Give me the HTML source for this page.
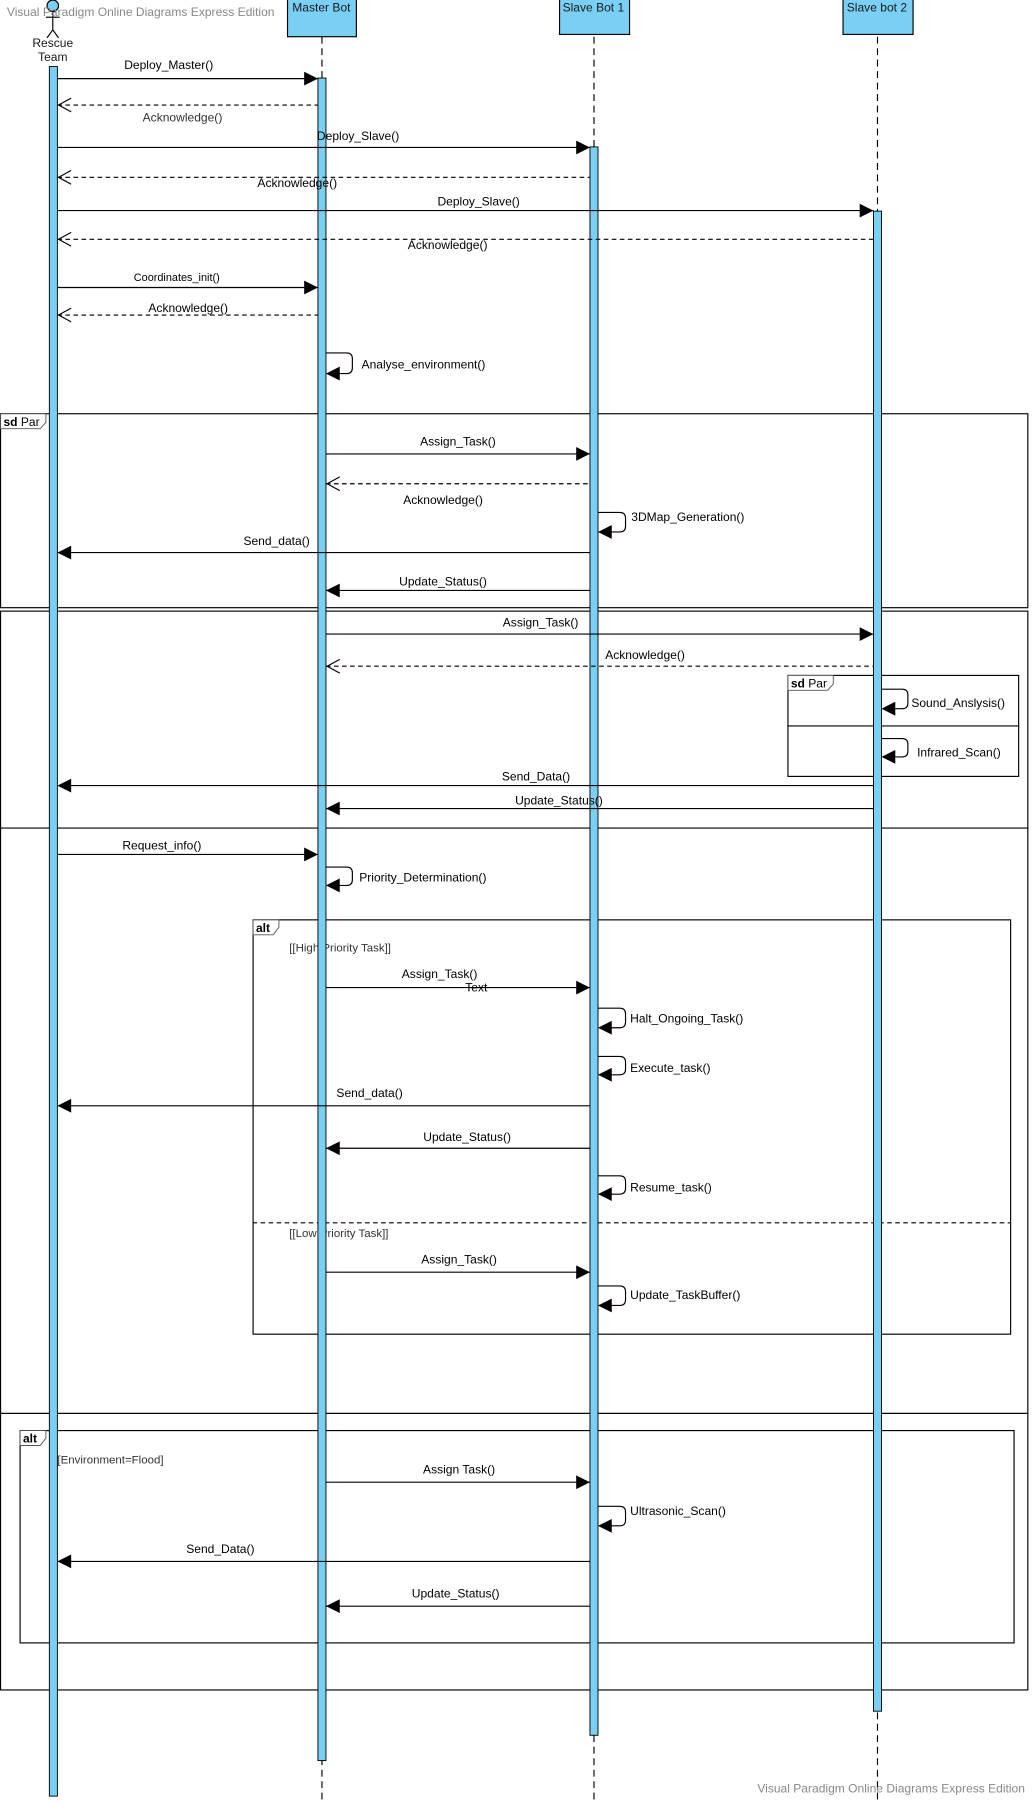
<!DOCTYPE html>
<html><head><meta charset="utf-8"><style>html,body{margin:0;padding:0;background:#fff}svg{display:block}</style></head><body>
<svg width="1033" height="1803" viewBox="0 0 900 1571" preserveAspectRatio="none" xmlns="http://www.w3.org/2000/svg" font-family="Liberation Sans, sans-serif" font-size="10.5">
<rect width="900" height="1571" fill="#fff"/>
<!-- frames -->
<g fill="none" stroke="#000" stroke-width="1">
<rect x="0.5" y="360.5" width="895" height="169"/>
<rect x="0.5" y="532.5" width="895" height="940"/>
<line x1="0" y1="721.5" x2="896" y2="721.5"/>
<line x1="0" y1="1231.5" x2="896" y2="1231.5"/>
<rect x="686.5" y="588.5" width="201" height="88"/>
<line x1="686" y1="632.5" x2="888" y2="632.5"/>
<rect x="220.5" y="801.5" width="660" height="361"/>
<line x1="220" y1="1065.5" x2="881" y2="1065.5" stroke-dasharray="4,3"/>
<rect x="17.5" y="1246.5" width="866" height="185"/>
</g>
<!-- frame tags -->
<g fill="#fff" stroke="#555" stroke-width="0.8">
<path d="M0.5 360.5 H40 V368 L35 373.5 H0.5 Z"/>
<path d="M686.5 588.5 H726 V596 L721 601.5 H686.5 Z"/>
<path d="M220.5 801.5 H243 V808 L238 814.5 H220.5 Z"/>
<path d="M17.5 1246.5 H40 V1253 L35 1259.5 H17.5 Z"/>
</g>
<g fill="#000">
<text x="3" y="371"><tspan font-weight="bold">sd</tspan> Par</text>
<text x="689" y="599"><tspan font-weight="bold">sd</tspan> Par</text>
<text x="223" y="812" font-weight="bold">alt</text>
<text x="20" y="1257" font-weight="bold">alt</text>
</g>
<g fill="#333" font-size="10">
<text x="252" y="829">[[High Priority Task]]</text>
<text x="252" y="1078">[[Low Priority Task]]</text>
<text x="50" y="1275">[Environment=Flood]</text>
</g>
<!-- lifelines -->
<g stroke="#000" stroke-width="1" stroke-dasharray="6,4">
<line x1="280.5" y1="32" x2="280.5" y2="1568"/>
<line x1="517.5" y1="32" x2="517.5" y2="1568"/>
<line x1="764.5" y1="32" x2="764.5" y2="1568"/>
</g>
<!-- headers -->
<g fill="#79cff4" stroke="#000">
<rect x="250.5" y="-1" width="60" height="33"/>
<rect x="487.5" y="-1" width="61" height="31"/>
<rect x="734.5" y="-1" width="61" height="31"/>
</g>
<g fill="#1a1a1a" font-size="10.5" text-anchor="middle">
<text x="280" y="10">Master Bot</text>
<text x="517" y="10">Slave Bot 1</text>
<text x="764" y="10">Slave bot 2</text>
<text x="46" y="41">Rescue</text>
<text x="46" y="53">Team</text>
</g>
<!-- actor -->
<g stroke="#000" fill="none" stroke-width="1">
<circle cx="46" cy="5" r="5" fill="#79cff4"/>
<line x1="46" y1="10" x2="46" y2="26"/>
<line x1="40" y1="15" x2="52" y2="15"/>
<line x1="46" y1="26" x2="41" y2="33"/>
<line x1="46" y1="26" x2="51" y2="33"/>
</g>
<text x="6" y="14" fill="#888" font-size="10.5">Visual Paradigm Online Diagrams Express Edition</text>
<text x="893" y="1562" fill="#888" font-size="10.5" text-anchor="end">Visual Paradigm Online Diagrams Express Edition</text>
<!-- activation bars -->
<g fill="#79cff4" stroke="#000" stroke-width="0.8">
<rect x="43" y="58" width="7" height="1507"/>
<rect x="277" y="68" width="7" height="1466"/>
<rect x="514" y="128" width="7" height="1384"/>
<rect x="761" y="184" width="7" height="1307"/>
</g>
<!-- messages -->
<g stroke="#000" stroke-width="1" fill="none">
<line x1="50" y1="68.5" x2="277" y2="68.5"/>
<line x1="50" y1="128.5" x2="514" y2="128.5"/>
<line x1="50" y1="183.5" x2="761" y2="183.5"/>
<line x1="50" y1="250.5" x2="277" y2="250.5"/>
<line x1="284" y1="395.5" x2="514" y2="395.5"/>
<line x1="50" y1="481.5" x2="514" y2="481.5"/>
<line x1="284" y1="514.5" x2="514" y2="514.5"/>
<line x1="284" y1="552.5" x2="761" y2="552.5"/>
<line x1="50" y1="684.5" x2="761" y2="684.5"/>
<line x1="284" y1="704.5" x2="761" y2="704.5"/>
<line x1="50" y1="744.5" x2="277" y2="744.5"/>
<line x1="284" y1="860.5" x2="514" y2="860.5"/>
<line x1="50" y1="963.5" x2="514" y2="963.5"/>
<line x1="284" y1="1000.5" x2="514" y2="1000.5"/>
<line x1="284" y1="1108.5" x2="514" y2="1108.5"/>
<line x1="284" y1="1291.5" x2="514" y2="1291.5"/>
<line x1="50" y1="1360.5" x2="514" y2="1360.5"/>
<line x1="284" y1="1399.5" x2="514" y2="1399.5"/>
</g>
<g stroke="#000" stroke-width="1" fill="none" stroke-dasharray="4,3">
<line x1="50" y1="91.5" x2="277" y2="91.5"/>
<line x1="50" y1="154.5" x2="514" y2="154.5"/>
<line x1="50" y1="208.5" x2="761" y2="208.5"/>
<line x1="50" y1="274.5" x2="277" y2="274.5"/>
<line x1="284" y1="421.5" x2="514" y2="421.5"/>
<line x1="284" y1="580.5" x2="761" y2="580.5"/>
</g>
<g stroke="#000" stroke-width="1" fill="none">
<path d="M62 85.5 L51 91.5 L62 97.5"/>
<path d="M62 148.5 L51 154.5 L62 160.5"/>
<path d="M62 202.5 L51 208.5 L62 214.5"/>
<path d="M62 268.5 L51 274.5 L62 280.5"/>
<path d="M296 415.5 L285 421.5 L296 427.5"/>
<path d="M296 574.5 L285 580.5 L296 586.5"/>
</g>
<g fill="#000">
<polygon points="277,68.5 265,62.5 265,74.5"/>
<polygon points="514,128.5 502,122.5 502,134.5"/>
<polygon points="761,183.5 749,177.5 749,189.5"/>
<polygon points="277,250.5 265,244.5 265,256.5"/>
<polygon points="514,395.5 502,389.5 502,401.5"/>
<polygon points="50,481.5 62,475.5 62,487.5"/>
<polygon points="284,514.5 296,508.5 296,520.5"/>
<polygon points="761,552.5 749,546.5 749,558.5"/>
<polygon points="50,684.5 62,678.5 62,690.5"/>
<polygon points="284,704.5 296,698.5 296,710.5"/>
<polygon points="277,744.5 265,738.5 265,750.5"/>
<polygon points="514,860.5 502,854.5 502,866.5"/>
<polygon points="50,963.5 62,957.5 62,969.5"/>
<polygon points="284,1000.5 296,994.5 296,1006.5"/>
<polygon points="514,1108.5 502,1102.5 502,1114.5"/>
<polygon points="514,1291.5 502,1285.5 502,1297.5"/>
<polygon points="50,1360.5 62,1354.5 62,1366.5"/>
<polygon points="284,1399.5 296,1393.5 296,1405.5"/>
</g>
<!-- self loops -->
<g stroke="#000" stroke-width="1" fill="none">
<path d="M284 307.5 H302 Q307 307.5 307 312.5 V320.5 Q307 325.5 302 325.5 H285"/>
<path d="M521 446.5 H540 Q545 446.5 545 451.5 V458.5 Q545 463.5 540 463.5 H522"/>
<path d="M768 600.5 H786 Q791 600.5 791 605.5 V612.5 Q791 617.5 786 617.5 H769"/>
<path d="M768 643.5 H786 Q791 643.5 791 648.5 V654.5 Q791 659.5 786 659.5 H769"/>
<path d="M284 755.5 H302 Q307 755.5 307 760.5 V766.5 Q307 771.5 302 771.5 H285"/>
<path d="M521 878.5 H540 Q545 878.5 545 883.5 V890.5 Q545 895.5 540 895.5 H522"/>
<path d="M521 920.5 H540 Q545 920.5 545 925.5 V931.5 Q545 936.5 540 936.5 H522"/>
<path d="M521 1024.5 H540 Q545 1024.5 545 1029.5 V1035.5 Q545 1040.5 540 1040.5 H522"/>
<path d="M521 1120.5 H540 Q545 1120.5 545 1125.5 V1132.5 Q545 1137.5 540 1137.5 H522"/>
<path d="M521 1312.5 H540 Q545 1312.5 545 1317.5 V1324.5 Q545 1329.5 540 1329.5 H522"/>
</g>
<g fill="#000">
<polygon points="284,325.5 296,319.5 296,331.5"/>
<polygon points="521,463.5 533,457.5 533,469.5"/>
<polygon points="768,617.5 780,611.5 780,623.5"/>
<polygon points="768,659.5 780,653.5 780,665.5"/>
<polygon points="284,771.5 296,765.5 296,777.5"/>
<polygon points="521,895.5 533,889.5 533,901.5"/>
<polygon points="521,936.5 533,930.5 533,942.5"/>
<polygon points="521,1040.5 533,1034.5 533,1046.5"/>
<polygon points="521,1137.5 533,1131.5 533,1143.5"/>
<polygon points="521,1329.5 533,1323.5 533,1335.5"/>
</g>
<!-- labels -->
<g fill="#000" font-size="10.5" text-anchor="middle">
<text x="147" y="60">Deploy_Master()</text>
<text x="159" y="106" fill="#333">Acknowledge()</text>
<text x="312" y="122">Deploy_Slave()</text>
<text x="259" y="163">Acknowledge()</text>
<text x="417" y="179">Deploy_Slave()</text>
<text x="390" y="217">Acknowledge()</text>
<text x="154" y="245" font-size="9.5">Coordinates_init()</text>
<text x="164" y="272">Acknowledge()</text>
<text x="399" y="388">Assign_Task()</text>
<text x="386" y="439">Acknowledge()</text>
<text x="241" y="475">Send_data()</text>
<text x="386" y="510">Update_Status()</text>
<text x="471" y="546">Assign_Task()</text>
<text x="562" y="574">Acknowledge()</text>
<text x="467" y="680">Send_Data()</text>
<text x="487" y="701">Update_Status()</text>
<text x="141" y="740">Request_info()</text>
<text x="383" y="852">Assign_Task()</text>
<text x="415" y="864">Text</text>
<text x="322" y="956">Send_data()</text>
<text x="407" y="994">Update_Status()</text>
<text x="400" y="1101">Assign_Task()</text>
<text x="400" y="1284">Assign Task()</text>
<text x="192" y="1353">Send_Data()</text>
<text x="397" y="1392">Update_Status()</text>
</g>
<g fill="#000" font-size="10.5">
<text x="315" y="321">Analyse_environment()</text>
<text x="550" y="454">3DMap_Generation()</text>
<text x="794" y="616">Sound_Anslysis()</text>
<text x="799" y="659">Infrared_Scan()</text>
<text x="313" y="768">Priority_Determination()</text>
<text x="549" y="891">Halt_Ongoing_Task()</text>
<text x="549" y="934">Execute_task()</text>
<text x="549" y="1038">Resume_task()</text>
<text x="549" y="1132">Update_TaskBuffer()</text>
<text x="549" y="1320">Ultrasonic_Scan()</text>
</g>
</svg>
</body></html>
